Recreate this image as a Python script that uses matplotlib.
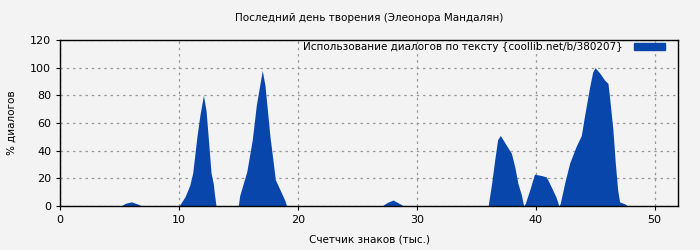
import matplotlib.pyplot as plt
from matplotlib.patches import Patch

BG_COLOR = "#f3f3f3"
FILL_COLOR = "#0846AB"

TITLE = "Последний день творения (Элеонора Мандалян)"
LEGEND_LABEL = "Использование диалогов по тексту {coollib.net/b/380207}"

# characters, thousands
positions = [
    0, 5.1, 5.5, 6.0, 6.5, 6.9,
    10.0, 10.5, 10.9, 11.15, 11.5, 11.76, 12.05, 12.27, 12.46, 12.69, 12.88, 12.97, 13.08, 13.12,
    14.98, 15.1, 15.7, 16.16, 16.5, 17.0, 17.23, 17.65, 17.93, 18.1, 18.5, 18.9, 19.05,
    27.06, 27.5, 28.0, 28.5, 28.9,
    36.0, 36.3, 36.55, 36.8, 37.03, 37.53, 37.96, 38.24, 38.5, 38.8, 38.99,
    39.13, 39.5, 39.9, 40.5, 40.9, 41.3, 41.7, 41.96,
    42.07, 42.44, 42.86, 43.4, 43.84, 44.1, 44.54, 44.8, 45.0, 45.4, 45.8, 46.08,
    46.2, 46.5, 46.7, 46.9, 47.06, 47.5, 47.76,
    52,
]

# % dialogues
dialog_pct = [
    0, 0, 2, 3, 1.5, 0,
    0, 6.7, 15, 24, 50, 66, 80, 69, 49, 24, 16, 9, 2, 0,
    0, 7.5, 25, 48, 73, 98, 87, 50, 31, 19, 11.6, 4, 0,
    0, 2.5, 4.3, 2, 0,
    0, 16.6, 33, 48, 51, 44, 38, 28.4, 16.6, 8, 0,
    2, 11.6, 23, 22, 21, 14, 6.7, 0,
    2, 16.6, 31, 43, 51, 64.6, 86, 97, 100, 96, 91, 88.7,
    80, 55, 31, 11.6, 3, 1.5, 0,
    0,
]

x_ticks = [0, 10, 20, 30, 40, 50]
y_ticks = [0, 20, 40, 60, 80, 100, 120]


fig = plt.figure(figsize=(7, 2.5), dpi=100)
fig.patch.set_facecolor(BG_COLOR)

ax = fig.add_axes([0.086, 0.176, 0.883, 0.664])
ax.set_facecolor(BG_COLOR)

ax.fill_between(positions, dialog_pct, 0, color=FILL_COLOR, linewidth=0, zorder=2)

ax.set_xlim(0, 52)
ax.set_ylim(0, 120)
ax.set_xticks(x_ticks)
ax.set_yticks(y_ticks)

ax.grid(color="#999999", linestyle=(0, (2, 3)), linewidth=0.9, zorder=1)
ax.set_axisbelow(True)

for spine in ax.spines.values():
    spine.set_color("black")
    spine.set_linewidth(1)
    spine.set_zorder(3)

ax.tick_params(labelsize=8, length=3, colors="black")

ax.set_title(TITLE, fontsize=7.5, pad=14)
ax.set_xlabel("Счетчик знаков (тыс.)", fontsize=7.5, labelpad=7)
ax.set_ylabel("% диалогов", fontsize=7.5, labelpad=10)

legend = [
    Patch(color=FILL_COLOR, label=LEGEND_LABEL),
]

ax.legend(
    handles=legend,
    loc="upper right",
    bbox_to_anchor=(0.979, 0.985),
    frameon=False,
    fontsize=7.5,
    markerfirst=False,
    handlelength=3.0,
    handleheight=0.65,
    borderaxespad=0,
    borderpad=0,
    handletextpad=1.1,
)

plt.savefig("out.png", dpi=100, facecolor=BG_COLOR)
plt.close()
